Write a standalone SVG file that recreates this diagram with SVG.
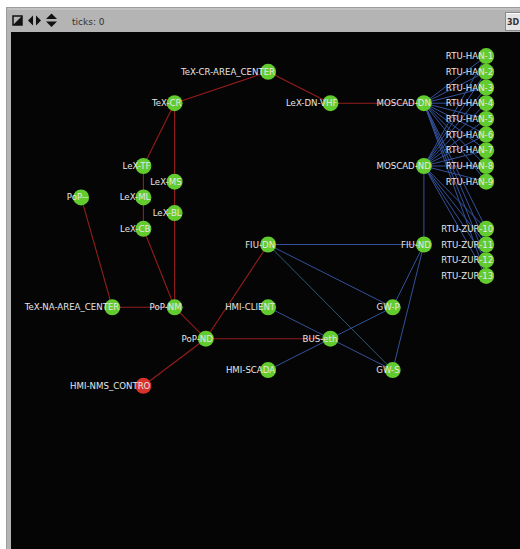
<svg xmlns="http://www.w3.org/2000/svg" width="520" height="549" viewBox="0 0 520 549">
<style>
.n{fill:#62cc2e}
.r{fill:#d8322a}
.l{font-family:"DejaVu Sans",sans-serif;font-size:8.6px;fill:#e6e6e6;text-anchor:end}
.er{stroke:#961c1c;stroke-width:1.1;fill:none}
.eb{stroke:#34519a;stroke-width:1;fill:none}
.et{stroke:#2d5a73;stroke-width:1;fill:none}
</style>
<rect x="0" y="0" width="520" height="549" fill="#ffffff"/>
<rect x="6.5" y="7.5" width="520" height="545" fill="#b4b4b4" stroke="#9c9c9c"/>
<line x1="7.5" y1="9" x2="520" y2="9" stroke="#d0d0d0"/>
<rect x="11" y="32" width="509" height="517" fill="#050505"/>
<g id="toolbar">
<rect x="13" y="16" width="9" height="9" fill="none" stroke="#111" stroke-width="1.5"/>
<polygon points="22,16 22,25 13,25" fill="#111"/>
<polygon points="28,20.5 33,15.5 33,25.5" fill="#111"/>
<polygon points="41,20.5 36,15.5 36,25.5" fill="#111"/>
<polygon points="51.5,13.5 46,19 57,19" fill="#111"/>
<polygon points="51.5,27 46,21.5 57,21.5" fill="#111"/>
<text x="72" y="24.5" font-family="DejaVu Sans,sans-serif" font-size="9" fill="#333">ticks: 0</text>
<rect x="505.5" y="12.5" width="20" height="18" fill="#e4e4e4" stroke="#8a8a8a"/>
<line x1="506.5" y1="13.5" x2="520" y2="13.5" stroke="#fafafa"/>
<text x="507" y="25" font-family="DejaVu Sans,sans-serif" font-size="8" font-weight="bold" fill="#333">3D</text>
</g>
<g id="connectors">
<line class="er" x1="268.1" y1="71.8" x2="174.6" y2="103.2"/>
<line class="er" x1="268.1" y1="71.8" x2="330.4" y2="103.2"/>
<line class="er" x1="330.4" y1="103.2" x2="423.9" y2="103.2"/>
<line class="er" x1="174.6" y1="103.2" x2="143.4" y2="166"/>
<line class="er" x1="174.6" y1="103.2" x2="174.6" y2="181.7"/>
<line class="er" x1="174.6" y1="181.7" x2="174.6" y2="213.1"/>
<line class="er" x1="174.6" y1="213.1" x2="174.6" y2="307.3"/>
<line class="er" x1="143.4" y1="166" x2="143.4" y2="197.4"/>
<line class="er" x1="143.4" y1="197.4" x2="143.4" y2="228.8"/>
<line class="er" x1="143.4" y1="228.8" x2="174.6" y2="307.3"/>
<line class="er" x1="81.1" y1="197.4" x2="112.3" y2="307.3"/>
<line class="er" x1="112.3" y1="307.3" x2="174.6" y2="307.3"/>
<line class="er" x1="174.6" y1="307.3" x2="205.8" y2="338.7"/>
<line class="er" x1="205.8" y1="338.7" x2="143.4" y2="385.8"/>
<line class="er" x1="205.8" y1="338.7" x2="268.1" y2="244.5"/>
<line class="er" x1="205.8" y1="338.7" x2="330.4" y2="338.7"/>
<g class="eb">
<line x1="423.9" y1="103.2" x2="486.2" y2="56.1"/>
<line x1="423.9" y1="103.2" x2="486.2" y2="71.8"/>
<line x1="423.9" y1="103.2" x2="486.2" y2="87.5"/>
<line x1="423.9" y1="103.2" x2="486.2" y2="103.2"/>
<line x1="423.9" y1="103.2" x2="486.2" y2="118.9"/>
<line x1="423.9" y1="103.2" x2="486.2" y2="134.6"/>
<line x1="423.9" y1="103.2" x2="486.2" y2="150.3"/>
<line x1="423.9" y1="103.2" x2="486.2" y2="166"/>
<line x1="423.9" y1="103.2" x2="486.2" y2="181.7"/>
<line x1="423.9" y1="103.2" x2="486.2" y2="228.8"/>
<line x1="423.9" y1="103.2" x2="486.2" y2="244.5"/>
<line x1="423.9" y1="103.2" x2="486.2" y2="260.2"/>
<line x1="423.9" y1="103.2" x2="486.2" y2="275.9"/>
<line x1="423.9" y1="166" x2="486.2" y2="56.1"/>
<line x1="423.9" y1="166" x2="486.2" y2="71.8"/>
<line x1="423.9" y1="166" x2="486.2" y2="87.5"/>
<line x1="423.9" y1="166" x2="486.2" y2="103.2"/>
<line x1="423.9" y1="166" x2="486.2" y2="118.9"/>
<line x1="423.9" y1="166" x2="486.2" y2="134.6"/>
<line x1="423.9" y1="166" x2="486.2" y2="150.3"/>
<line x1="423.9" y1="166" x2="486.2" y2="166"/>
<line x1="423.9" y1="166" x2="486.2" y2="181.7"/>
<line x1="423.9" y1="166" x2="486.2" y2="228.8"/>
<line x1="423.9" y1="166" x2="486.2" y2="244.5"/>
<line x1="423.9" y1="166" x2="486.2" y2="260.2"/>
<line x1="423.9" y1="166" x2="486.2" y2="275.9"/>
<line x1="423.9" y1="166" x2="423.9" y2="244.5"/>
<line x1="268.1" y1="244.5" x2="423.9" y2="244.5"/>
<line x1="268.1" y1="244.5" x2="392.7" y2="307.3"/>
<line x1="423.9" y1="244.5" x2="392.7" y2="307.3"/>
<line x1="423.9" y1="244.5" x2="392.7" y2="370.1"/>
<line x1="268.1" y1="307.3" x2="330.4" y2="338.7"/>
<line x1="268.1" y1="370.1" x2="330.4" y2="338.7"/>
<line x1="330.4" y1="338.7" x2="392.7" y2="307.3"/>
<line x1="330.4" y1="338.7" x2="392.7" y2="370.1"/>
</g>
<line class="et" x1="268.1" y1="244.5" x2="392.7" y2="370.1"/>
</g>
<g id="TeX-CR-AREA_CENTER"><circle class="n" cx="268.1" cy="71.8" r="8"/><text class="l" x="275.1" y="74.8">TeX-CR-AREA_CENTER</text></g>
<g id="TeX-CR"><circle class="n" cx="174.6" cy="103.2" r="8"/><text class="l" x="181.6" y="106.2">TeX-CR</text></g>
<g id="LeX-DN-VHF"><circle class="n" cx="330.4" cy="103.2" r="8"/><text class="l" x="337.4" y="106.2">LeX-DN-VHF</text></g>
<g id="MOSCAD-DN"><circle class="n" cx="423.9" cy="103.2" r="8"/><text class="l" x="430.9" y="106.2">MOSCAD-DN</text></g>
<g id="MOSCAD-ND"><circle class="n" cx="423.9" cy="166" r="8"/><text class="l" x="430.9" y="169">MOSCAD-ND</text></g>
<g id="RTU-HAN-1"><circle class="n" cx="486.2" cy="56.1" r="8"/><text class="l" x="493.2" y="59.1">RTU-HAN-1</text></g>
<g id="RTU-HAN-2"><circle class="n" cx="486.2" cy="71.8" r="8"/><text class="l" x="493.2" y="74.8">RTU-HAN-2</text></g>
<g id="RTU-HAN-3"><circle class="n" cx="486.2" cy="87.5" r="8"/><text class="l" x="493.2" y="90.5">RTU-HAN-3</text></g>
<g id="RTU-HAN-4"><circle class="n" cx="486.2" cy="103.2" r="8"/><text class="l" x="493.2" y="106.2">RTU-HAN-4</text></g>
<g id="RTU-HAN-5"><circle class="n" cx="486.2" cy="118.9" r="8"/><text class="l" x="493.2" y="121.9">RTU-HAN-5</text></g>
<g id="RTU-HAN-6"><circle class="n" cx="486.2" cy="134.6" r="8"/><text class="l" x="493.2" y="137.6">RTU-HAN-6</text></g>
<g id="RTU-HAN-7"><circle class="n" cx="486.2" cy="150.3" r="8"/><text class="l" x="493.2" y="153.3">RTU-HAN-7</text></g>
<g id="RTU-HAN-8"><circle class="n" cx="486.2" cy="166" r="8"/><text class="l" x="493.2" y="169">RTU-HAN-8</text></g>
<g id="RTU-HAN-9"><circle class="n" cx="486.2" cy="181.7" r="8"/><text class="l" x="493.2" y="184.7">RTU-HAN-9</text></g>
<g id="RTU-ZUR-10"><circle class="n" cx="486.2" cy="228.8" r="8"/><text class="l" x="493.2" y="231.8">RTU-ZUR-10</text></g>
<g id="RTU-ZUR-11"><circle class="n" cx="486.2" cy="244.5" r="8"/><text class="l" x="493.2" y="247.5">RTU-ZUR-11</text></g>
<g id="RTU-ZUR-12"><circle class="n" cx="486.2" cy="260.2" r="8"/><text class="l" x="493.2" y="263.2">RTU-ZUR-12</text></g>
<g id="RTU-ZUR-13"><circle class="n" cx="486.2" cy="275.9" r="8"/><text class="l" x="493.2" y="278.9">RTU-ZUR-13</text></g>
<g id="LeX-TF"><circle class="n" cx="143.4" cy="166" r="8"/><text class="l" x="150.4" y="169">LeX-TF</text></g>
<g id="LeX-MS"><circle class="n" cx="174.6" cy="181.7" r="8"/><text class="l" x="181.6" y="184.7">LeX-MS</text></g>
<g id="PoP--"><circle class="n" cx="81.1" cy="197.4" r="8"/><text class="l" x="88.1" y="200.4">PoP--</text></g>
<g id="LeX-ML"><circle class="n" cx="143.4" cy="197.4" r="8"/><text class="l" x="150.4" y="200.4">LeX-ML</text></g>
<g id="LeX-BL"><circle class="n" cx="174.6" cy="213.1" r="8"/><text class="l" x="181.6" y="216.1">LeX-BL</text></g>
<g id="LeX-CB"><circle class="n" cx="143.4" cy="228.8" r="8"/><text class="l" x="150.4" y="231.8">LeX-CB</text></g>
<g id="FIU-DN"><circle class="n" cx="268.1" cy="244.5" r="8"/><text class="l" x="275.1" y="247.5">FIU-DN</text></g>
<g id="FIU-ND"><circle class="n" cx="423.9" cy="244.5" r="8"/><text class="l" x="430.9" y="247.5">FIU-ND</text></g>
<g id="TeX-NA-AREA_CENTER"><circle class="n" cx="112.3" cy="307.3" r="8"/><text class="l" x="119.3" y="310.3">TeX-NA-AREA_CENTER</text></g>
<g id="PoP-NM"><circle class="n" cx="174.6" cy="307.3" r="8"/><text class="l" x="181.6" y="310.3">PoP-NM</text></g>
<g id="HMI-CLIENT"><circle class="n" cx="268.1" cy="307.3" r="8"/><text class="l" x="275.1" y="310.3">HMI-CLIENT</text></g>
<g id="GW-P"><circle class="n" cx="392.7" cy="307.3" r="8"/><text class="l" x="399.7" y="310.3">GW-P</text></g>
<g id="PoP-ND"><circle class="n" cx="205.8" cy="338.7" r="8"/><text class="l" x="212.8" y="341.7">PoP-ND</text></g>
<g id="BUS-eth"><circle class="n" cx="330.4" cy="338.7" r="8"/><text class="l" x="337.4" y="341.7">BUS-eth</text></g>
<g id="HMI-SCADA"><circle class="n" cx="268.1" cy="370.1" r="8"/><text class="l" x="275.1" y="373.1">HMI-SCADA</text></g>
<g id="GW-S"><circle class="n" cx="392.7" cy="370.1" r="8"/><text class="l" x="399.7" y="373.1">GW-S</text></g>
<g id="HMI-NMS_CONTRO"><circle class="r" cx="143.4" cy="385.8" r="8"/><text class="l" x="150.4" y="388.8">HMI-NMS_CONTRO</text></g>
</svg>
